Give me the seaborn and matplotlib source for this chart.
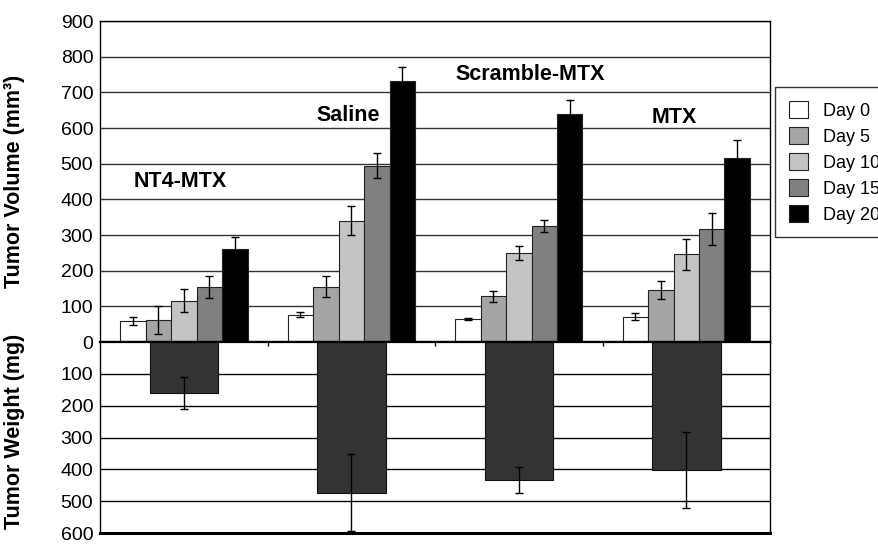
import pandas as pd
import seaborn as sns
import matplotlib
matplotlib.use('Agg')
import matplotlib.pyplot as plt

groups = ['NT4-MTX', 'Saline', 'Scramble-MTX', 'MTX']
days = ['Day 0', 'Day 5', 'Day 10', 'Day 15', 'Day 20']
day_colors = ['#ffffff', '#a5a5a5', '#c4c4c4', '#808080', '#000000']

# tumor volume (mm3) per day, one value per group
vol_day0 = [59, 77, 64, 71]
vol_day5 = [62, 155, 128, 145]
vol_day10 = [116, 340, 250, 246]
vol_day15 = [154, 494, 325, 316]
vol_day20 = [260, 731, 640, 515]
err_day0 = [12, 6, 2, 9]
err_day5 = [40, 29, 16, 25]
err_day10 = [33, 40, 20, 44]
err_day15 = [31, 35, 17, 45]
err_day20 = [34, 41, 40, 52]

# tumor weight (mg)
weight = [161, 474, 433, 402]
weight_err = [50, 121, 40, 120]

label_pos = {'NT4-MTX': (-0.02, 449), 'Saline': (0.98, 634),
             'Scramble-MTX': (2.07, 751), 'MTX': (2.93, 629)}

vols = [vol_day0, vol_day5, vol_day10, vol_day15, vol_day20]
errs = [err_day0, err_day5, err_day10, err_day15, err_day20]
rows = []
for d, v, e in zip(days, vols, errs):
    for g, vv, ee in zip(groups, v, e):
        rows.append({'group': g, 'day': d, 'volume': vv, 'err': ee})
df = pd.DataFrame(rows)
wdf = pd.DataFrame({'group': groups, 'weight': weight, 'err': weight_err})

sns.set_theme(style='white')
plt.rcParams['font.family'] = ['Liberation Sans', 'DejaVu Sans']
plt.rcParams['text.color'] = 'black'
plt.rcParams['axes.labelcolor'] = 'black'
plt.rcParams['xtick.color'] = 'black'
plt.rcParams['ytick.color'] = 'black'

fig = plt.figure(figsize=(8.79, 5.44), dpi=100)
ax1 = fig.add_axes([0.114, 0.3713, 0.762, 0.590])
ax2 = fig.add_axes([0.114, 0.0202, 0.762, 0.351])

# top: volumes
sns.barplot(data=df, x='group', y='volume', hue='day', order=groups, hue_order=days,
            palette=dict(zip(days, day_colors)), width=0.76, errorbar=None,
            saturation=1, edgecolor='#222222', linewidth=0.8, ax=ax1)
bar_conts = list(ax1.containers)
for j, cont in enumerate(bar_conts):
    xs = [b.get_x() + b.get_width() / 2 for b in cont]
    ax1.errorbar(xs, vols[j], yerr=errs[j], fmt='none', ecolor='black',
                 elinewidth=1, capsize=3, capthick=1, zorder=5)
ax1.set_xlim(-0.5, 3.5)
ax1.set_ylim(0, 900)
ax1.set_yticks(range(0, 901, 100))
ax1.set_xticks([])
ax1.set_xlabel('')
ax1.set_ylabel('Tumor Volume (mm³)', fontsize=15.5, fontweight='bold')
ax1.yaxis.set_label_coords(-0.113, 0.5)
ax1.yaxis.grid(True, color='#333333', linewidth=1)
ax1.set_axisbelow(True)
ax1.tick_params(axis='y', labelsize=14, length=3, width=1, direction='out', pad=2)
for s in ax1.spines.values():
    s.set_color('black')
    s.set_linewidth(1)
ax1.spines['bottom'].set_linewidth(1.6)
for g in groups:
    x, y = label_pos[g]
    ax1.text(x, y, g, ha='center', va='center', fontsize=15.5, fontweight='bold')

sns.move_legend(ax1, 'upper left', bbox_to_anchor=(1.0075, 0.794), borderaxespad=0,
                title=None, frameon=True, fancybox=False, fontsize=13,
                handlelength=1.1, handleheight=1.1, labelspacing=0.4,
                borderpad=0.75, handletextpad=0.8)
leg = ax1.get_legend()
leg.get_frame().set_edgecolor('black')
leg.get_frame().set_linewidth(1)

# bottom: weights
sns.barplot(data=wdf, x='group', y='weight', order=groups, color='#333333',
            width=0.41, errorbar=None, saturation=1, edgecolor='#111111',
            linewidth=0.8, ax=ax2)
xs = [b.get_x() + b.get_width() / 2 for b in ax2.containers[0]]
ax2.errorbar(xs, weight, yerr=weight_err, fmt='none', ecolor='black',
             elinewidth=1, capsize=3, capthick=1, zorder=5)
ax2.set_xlim(-0.5, 3.5)
ax2.set_ylim(600, 0)
ax2.set_yticks(range(100, 601, 100))
ax2.set_xlabel('')
ax2.set_ylabel('Tumor Weight (mg)', fontsize=15.5, fontweight='bold')
ax2.yaxis.set_label_coords(-0.113, 0.534)
ax2.yaxis.grid(True, color='black', linewidth=1)
ax2.set_axisbelow(True)
ax2.tick_params(axis='y', labelsize=14, length=3, width=1, direction='out', pad=2)
ax2.xaxis.tick_top()
ax2.set_xticks([0.5, 1.5, 2.5])
ax2.set_xticklabels([])
ax2.tick_params(axis='x', direction='in', length=3, width=1, color='black')
for s in ax2.spines.values():
    s.set_color('black')
    s.set_linewidth(1)
ax2.spines['top'].set_linewidth(1.6)
ax2.spines['bottom'].set_linewidth(2.2)

fig.savefig('out.png', dpi=100)
